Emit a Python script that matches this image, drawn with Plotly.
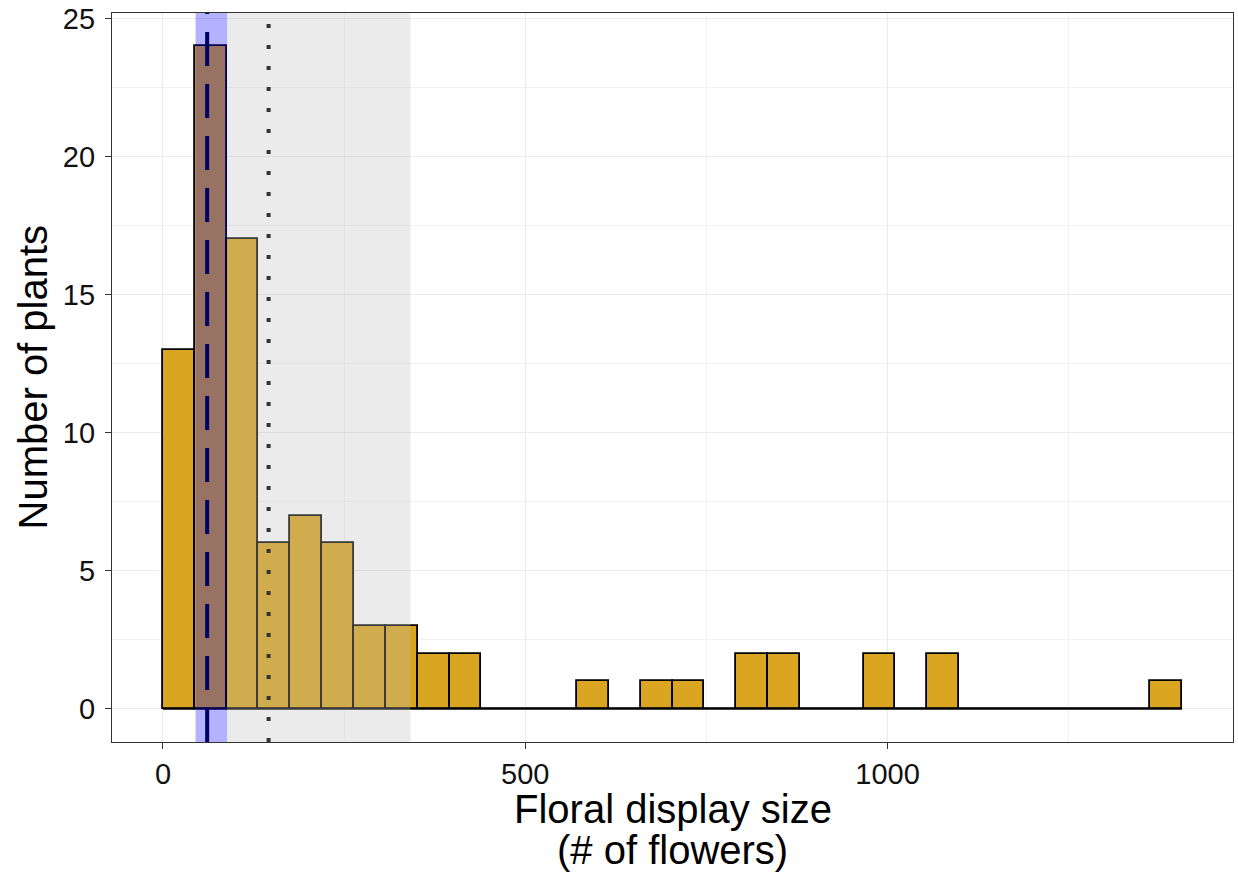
import numpy as np
import plotly.graph_objects as go

# histogram bins (ggplot-style, fixed width starting at 0)
bin_start = 0.0
bin_width = 43.95
counts = [13, 24, 17, 6, 7, 6, 3, 3, 2, 2,
          0, 0, 0, 1, 0, 1, 1, 0, 2, 2,
          0, 0, 2, 0, 2, 0, 0, 0, 0, 0,
          0, 1]

# reference statistics drawn on top
median_value = 61.0          # dashed navy line
median_ci = [45.0, 88.5]     # blue band
mean_value = 145.8           # dotted line
spread_band = [88.5, 341.5]  # grey band

x_ticks = [0, 500, 1000]
x_minor = [250, 750, 1250]
y_ticks = [0, 5, 10, 15, 20, 25]
y_minor = [2.5, 7.5, 12.5, 17.5, 22.5]

edges = bin_start + bin_width * np.arange(len(counts) + 1)
centers = (edges[:-1] + edges[1:]) / 2

# ggplot default 5% expansion
span = edges[-1] - edges[0]
x_range = [edges[0] - 0.05 * span, edges[-1] + 0.05 * span]
y_range = [-1.2, 25.2]

FONT = "Liberation Sans, Arial, Helvetica, sans-serif"
TICK_SIZE = 29
TITLE_SIZE = 40

fig = go.Figure()

# baseline for empty bins
fig.add_trace(go.Scatter(
    x=[edges[0], edges[-1]], y=[0, 0], mode="lines",
    line=dict(color="black", width=2), hoverinfo="skip", showlegend=False,
))

fig.add_trace(go.Bar(
    x=centers, y=counts, width=bin_width,
    marker=dict(color="#DAA520", line=dict(color="black", width=1.8)),
    showlegend=False,
))

# shaded bands (drawn over bars, like ggplot annotate)
fig.add_shape(type="rect", xref="x", yref="paper",
              x0=spread_band[0], x1=spread_band[1], y0=0, y1=1,
              fillcolor="rgba(190,190,190,0.3)", line=dict(width=0), layer="above")
fig.add_shape(type="rect", xref="x", yref="paper",
              x0=median_ci[0], x1=median_ci[1], y0=0, y1=1,
              fillcolor="rgba(0,0,255,0.3)", line=dict(width=0), layer="above")

fig.add_shape(type="line", xref="x", yref="paper",
              x0=median_value, x1=median_value, y0=0, y1=1,
              line=dict(color="#000066", width=4, dash="34px,18px"), layer="above")
fig.add_shape(type="line", xref="x", yref="paper",
              x0=mean_value, x1=mean_value, y0=0, y1=1,
              line=dict(color="#333333", width=4, dash="4px,17px"), layer="above")

axis_common = dict(
    showline=True, linecolor="#333333", linewidth=1.2, mirror=True,
    gridcolor="#EBEBEB", gridwidth=1.3,
    ticks="outside", ticklen=6, tickwidth=1.3, tickcolor="#333333",
    tickfont=dict(family=FONT, size=TICK_SIZE, color="#111111"),
    zeroline=False, automargin=False,
    minor=dict(showgrid=True, gridcolor="#F2F2F2", gridwidth=1),
)

fig.update_xaxes(range=x_range, tickvals=x_ticks, minor_tickvals=x_minor, **axis_common)
fig.update_yaxes(range=y_range, tickvals=y_ticks, minor_tickvals=y_minor,
                 ticklabelstandoff=4, **axis_common)

title_font = dict(family=FONT, size=TITLE_SIZE, color="black")
# x title as two lines with ggplot-like tight line height
fig.add_annotation(text="Floral display size", xref="paper", yref="paper",
                   x=0.5, y=0, yanchor="middle", yshift=-67, showarrow=False,
                   font=title_font)
fig.add_annotation(text="(# of flowers)", xref="paper", yref="paper",
                   x=0.5, y=0, yanchor="middle", yshift=-108, showarrow=False,
                   font=title_font)
fig.add_annotation(text="Number of plants", xref="paper", yref="paper",
                   x=0, y=0.5, xanchor="center", xshift=-80, textangle=-90,
                   showarrow=False, font=title_font)

fig.update_layout(
    width=1238, height=881,
    margin=dict(l=112, r=5, t=13, b=139),
    plot_bgcolor="white", paper_bgcolor="white",
    bargap=0,
    font=dict(family=FONT),
)

# page body has a default 8px margin; drop it so the figure fills the window
fig.write_html("out.html", config={"displayModeBar": False},
               post_script="document.body.style.margin='0';")
